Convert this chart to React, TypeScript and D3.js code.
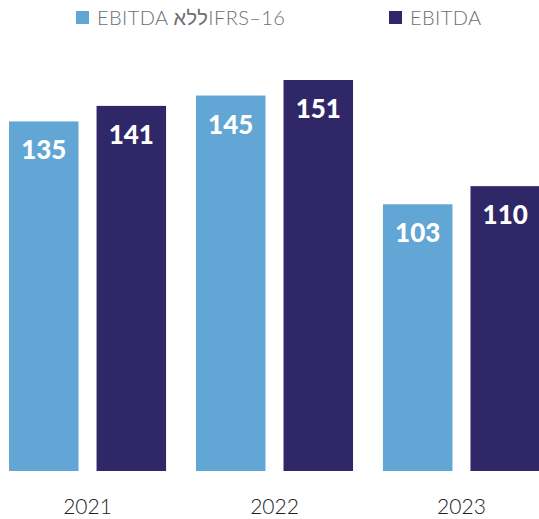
import React from "react";
import * as d3 from "d3";

const years = ["2021", "2022", "2023"];
const series = ["EBITDA ללאIFRS–16", "EBITDA"];
const withoutIfrs = [135, 145, 103];
const ebitda = [141, 151, 110];
const colors = ["#61a6d5", "#2f2768"];

const hebrew = /([\u0590-\u05FF]+)/;

const App = () => {
  const w = 539;
  const h = 519;
  const baseY = 471;

  const x0 = d3.scaleBand().domain(years).range([9, 540]).paddingInner(0.16).paddingOuter(0);
  const x1 = d3
    .scaleBand()
    .domain(series)
    .range([0, x0.bandwidth()])
    .paddingInner(0.206)
    .paddingOuter(0);
  const y = d3.scaleLinear().domain([0, 151]).range([baseY, 80]);

  const values = [withoutIfrs, ebitda];
  const legendX = [76, 389];

  return (
    <svg
      width={w}
      height={h}
      style={{ position: "absolute", left: 0, top: 0, background: "#fff" }}
    >
      {/* legend */}
      {series.map((s, i) => (
        <g key={s} transform={`translate(${legendX[i]},0)`}>
          <rect x={0} y={11} width={13} height={13} fill={colors[i]} />
          <text
            x={21}
            y={25}
            fontFamily="Lato, sans-serif"
            fontWeight={300}
            fontSize={20}
            letterSpacing={0.4}
            fill="#6d6e71"
            direction="ltr"
          >
            {s.split(hebrew).map((part, pi) =>
              hebrew.test(part) ? (
                <tspan key={pi} fontFamily="'Liberation Sans', sans-serif" fontWeight="normal" fontSize={20}>
                  {part}
                </tspan>
              ) : (
                <tspan key={pi}>{part}</tspan>
              )
            )}
          </text>
        </g>
      ))}

      {/* bars */}
      {years.map((yr, yi) => (
        <g key={yr} transform={`translate(${x0(yr)},0)`}>
          {series.map((s, si) => {
            const v = values[si][yi];
            return (
              <g key={s}>
                <rect
                  x={x1(s)}
                  y={y(v)}
                  width={x1.bandwidth()}
                  height={baseY - y(v)}
                  fill={colors[si]}
                />
                <text
                  x={(x1(s) as number) + x1.bandwidth() / 2}
                  y={y(v) + 38}
                  textAnchor="middle"
                  fontFamily="Lato, sans-serif"
                  fontWeight={900}
                  fontSize={26}
                  fill="#fff"
                >
                  {v}
                </text>
              </g>
            );
          })}
          <text
            x={x0.bandwidth() / 2}
            y={514}
            textAnchor="middle"
            fontFamily="Lato, sans-serif"
            fontWeight={300}
            fontSize={21}
            fill="#222"
          >
            {yr}
          </text>
        </g>
      ))}
    </svg>
  );
};

export default App;
